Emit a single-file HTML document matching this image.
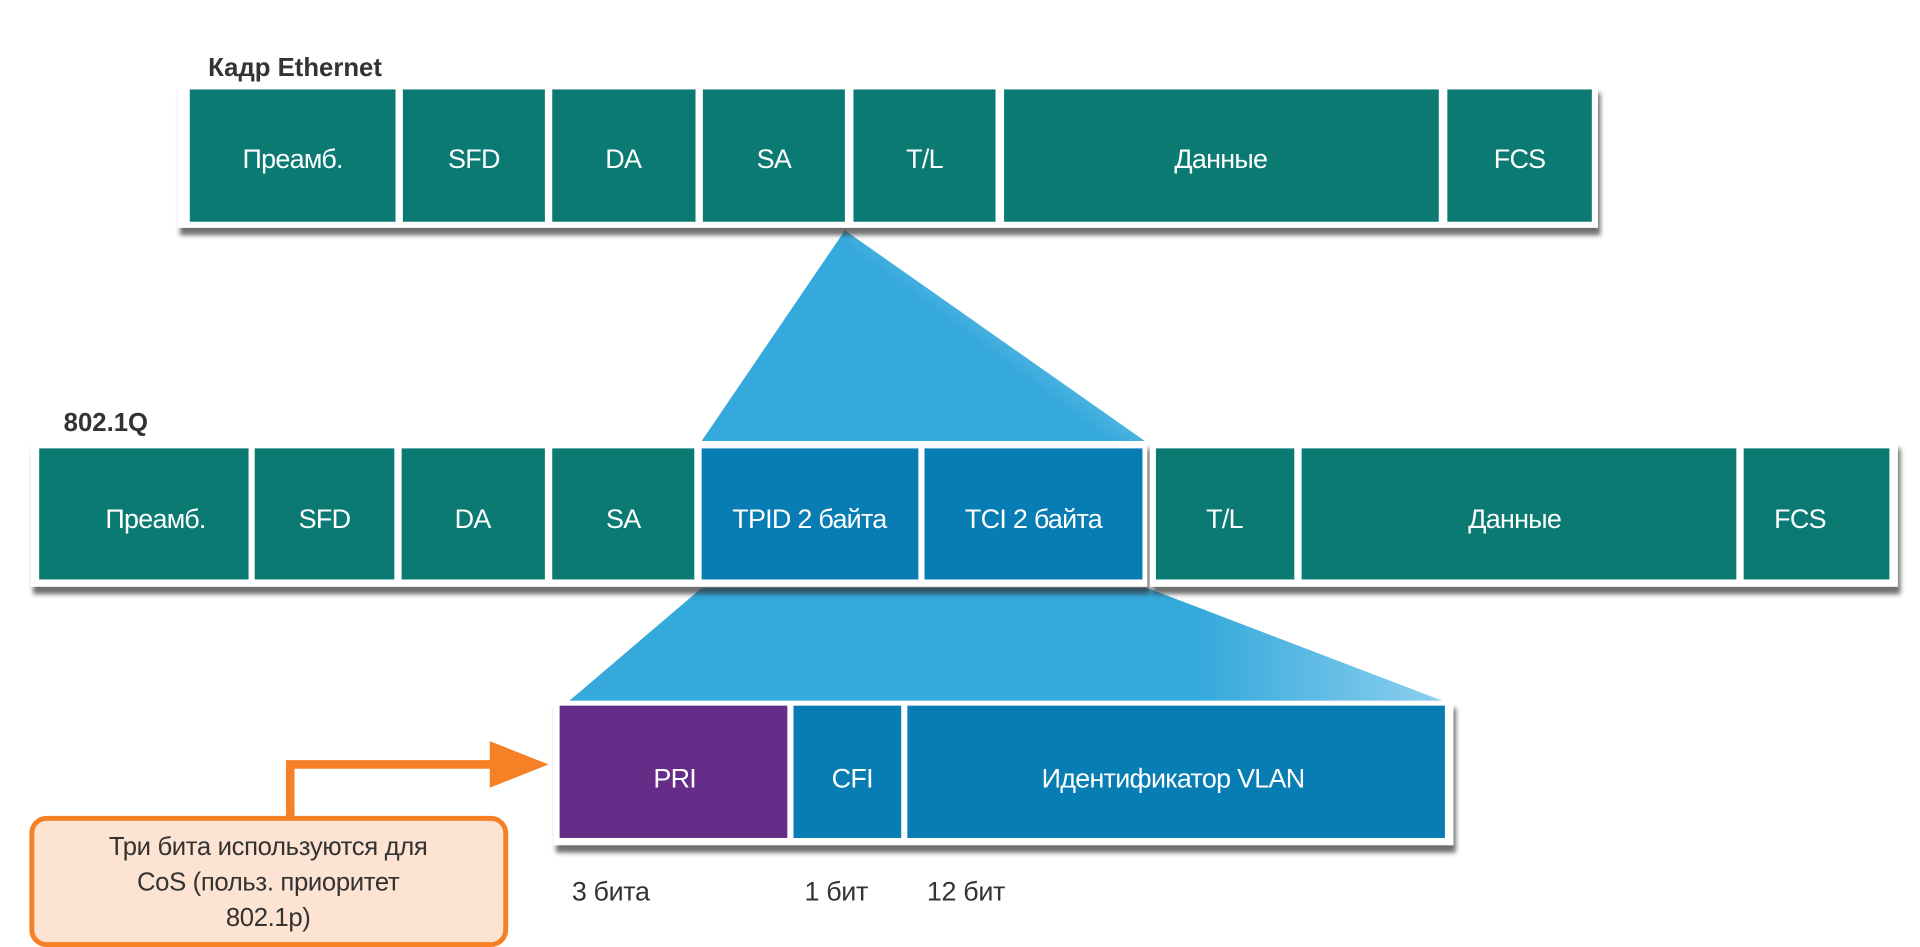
<!DOCTYPE html>
<html><head><meta charset="utf-8"><style>
html,body{margin:0;padding:0;background:#fff;width:1920px;height:947px;overflow:hidden}
svg{display:block}
text{font-family:"Liberation Sans Narrow","Liberation Sans",sans-serif}
.c{fill:#fff;font-size:22px;text-anchor:middle;letter-spacing:-0.6px}
.d{fill:#333;font-size:22px;letter-spacing:-0.3px}
</style></head><body>
<svg width="1920" height="947" viewBox="0 0 1568 773" preserveAspectRatio="none" xmlns="http://www.w3.org/2000/svg">
<defs>
<linearGradient id="g1" x1="0.3" y1="0.7" x2="0.85" y2="0.35">
<stop offset="0" stop-color="#35a9dc"/><stop offset="0.55" stop-color="#35a9dc"/><stop offset="1" stop-color="#8fd0ef"/></linearGradient>
<linearGradient id="g2" x1="0" y1="0" x2="1" y2="0">
<stop offset="0" stop-color="#35a9dc"/><stop offset="0.72" stop-color="#35a9dc"/><stop offset="1" stop-color="#8ccfee"/></linearGradient>
<filter id="sh" x="-5%" y="-20%" width="110%" height="150%"><feGaussianBlur stdDeviation="2"/></filter>
</defs>
<polygon points="690,188 573,360 935,360" fill="url(#g1)"/>
<polygon points="573,480 937,480 1178,572 465,572" fill="url(#g2)"/>
<!-- frame 1 -->
<text x="170" y="62" style="font-family:'Liberation Sans',sans-serif;font-weight:bold;font-size:21px;fill:#333">Кадр Ethernet</text>
<rect x="147" y="76" width="1160" height="116" fill="#333" opacity="0.7" filter="url(#sh)"/>
<rect x="145" y="70" width="1160" height="116" fill="#fff"/>
<g fill="#0a7a73">
<rect x="155" y="73" width="168" height="108"/><rect x="329" y="73" width="116" height="108"/>
<rect x="451" y="73" width="117" height="108"/><rect x="574" y="73" width="116" height="108"/>
<rect x="697" y="73" width="116" height="108"/><rect x="820" y="73" width="355" height="108"/>
<rect x="1182" y="73" width="118" height="108"/></g>
<text class="c" x="239" y="137">Преамб.</text><text class="c" x="387" y="137">SFD</text>
<text class="c" x="509" y="137">DA</text><text class="c" x="632" y="137">SA</text><text class="c" x="755" y="137">T/L</text>
<text class="c" x="997" y="137">Данные</text><text class="c" x="1241" y="137">FCS</text>
<!-- frame 2 -->
<text x="52" y="352" style="font-family:'Liberation Sans',sans-serif;font-weight:bold;font-size:21px;fill:#333">802.1Q</text>
<rect x="27" y="366" width="912" height="119" fill="#333" opacity="0.7" filter="url(#sh)"/>
<rect x="941" y="366" width="611" height="119" fill="#333" opacity="0.7" filter="url(#sh)"/>
<rect x="25" y="360" width="912" height="119" fill="#fff"/>
<rect x="939" y="360" width="611" height="119" fill="#fff"/>
<g fill="#0a7a73">
<rect x="32" y="366" width="171" height="107"/><rect x="208" y="366" width="114" height="107"/>
<rect x="328" y="366" width="117" height="107"/><rect x="451" y="366" width="116" height="107"/>
<rect x="944" y="366" width="113" height="107"/><rect x="1063" y="366" width="355" height="107"/>
<rect x="1424" y="366" width="119" height="107"/></g>
<g fill="#087db3"><rect x="573" y="366" width="177" height="107"/><rect x="755" y="366" width="178" height="107"/></g>
<text class="c" x="127" y="431">Преамб.</text><text class="c" x="265" y="431">SFD</text>
<text class="c" x="386" y="431">DA</text><text class="c" x="509" y="431">SA</text>
<text class="c" x="661" y="431">TPID 2 байта</text><text class="c" x="844" y="431">TCI 2 байта</text>
<text class="c" x="1000" y="431">T/L</text><text class="c" x="1237" y="431">Данные</text><text class="c" x="1470" y="431">FCS</text>
<!-- frame 3 -->
<rect x="454" y="578" width="735" height="118" fill="#333" opacity="0.7" filter="url(#sh)"/>
<rect x="452" y="572" width="735" height="118" fill="#fff"/>
<rect x="457" y="576" width="186" height="108" fill="#652c88"/>
<rect x="648" y="576" width="88" height="108" fill="#087db3"/>
<rect x="741" y="576" width="439" height="108" fill="#087db3"/>
<text class="c" x="551" y="643">PRI</text><text class="c" x="696" y="643">CFI</text>
<text class="c" x="958" y="643">Идентификатор VLAN</text>
<text class="d" x="467" y="735">3 бита</text><text class="d" x="657" y="735">1 бит</text><text class="d" x="757" y="735">12 бит</text>
<!-- callout -->
<polyline points="237,668 237,624 405,624" fill="none" stroke="#f58025" stroke-width="7"/>
<polygon points="400,605 448,624 400,643" fill="#f58025"/>
<rect x="26" y="668" width="387" height="103" rx="12" fill="#fde3d1" stroke="#f58025" stroke-width="4"/>
<g style="font-family:'Liberation Sans',sans-serif;font-size:21px;fill:#333;text-anchor:middle;letter-spacing:-0.3px">
<text x="219" y="698">Три бита используются для</text>
<text x="219" y="727">CoS (польз. приоритет</text>
<text x="219" y="756">802.1p)</text></g>
</svg>
</body></html>
